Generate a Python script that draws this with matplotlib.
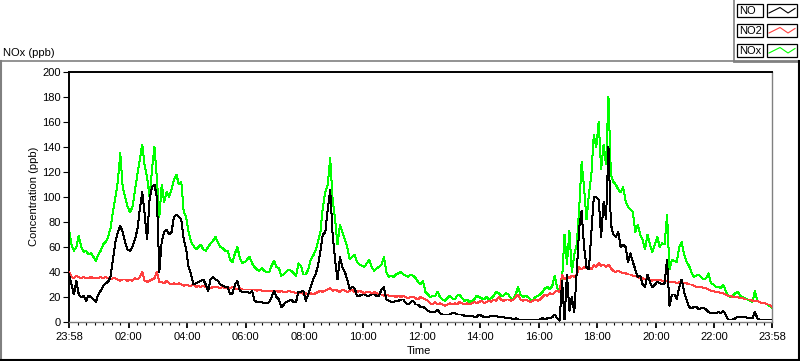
import numpy as np
import matplotlib
matplotlib.use("Agg")
import matplotlib.pyplot as plt
from matplotlib.lines import Line2D
from matplotlib.patches import Rectangle

plt.rcParams["font.family"] = ["Liberation Sans", "DejaVu Sans"]
plt.rcParams["font.size"] = 8

# minutes since 23:58, one reading every 5 minutes
minutes = np.arange(0, 1441, 5)

no = [
    38, 30, 22, 33, 22, 20, 21, 17, 21, 20, 18, 16,
    22, 25, 29, 31, 32, 36, 50, 64, 72, 77, 72, 64,
    58, 57, 60, 66, 74, 90, 104, 86, 66, 98, 108, 110,
    100, 40, 65, 72, 74, 70, 72, 84, 86, 84, 82, 66,
    58, 44, 38, 30, 31, 32, 33, 34, 30, 25, 34, 36,
    34, 33, 30, 29, 28, 28, 22, 23, 30, 33, 25, 24,
    24, 24, 23, 25, 17, 16, 16, 16, 15, 15, 16, 20,
    25, 20, 18, 12, 14, 16, 17, 18, 16, 16, 24, 24,
    25, 17, 22, 28, 34, 38, 45, 57, 70, 72, 90, 106,
    70, 50, 34, 52, 44, 40, 34, 26, 28, 27, 21, 21,
    22, 22, 21, 21, 22, 22, 21, 21, 26, 28, 18, 17,
    16, 16, 17, 17, 18, 18, 15, 14, 16, 17, 14, 14,
    12, 12, 11, 9, 8, 8, 8, 10, 7, 6, 6, 6,
    6, 7, 7, 6, 6, 6, 5, 5, 5, 5, 4, 4,
    6, 5, 4, 4, 4, 5, 5, 5, 4, 4, 4, 3,
    3, 3, 2, 3, 2, 2, 2, 2, 2, 2, 2, 2,
    2, 2, 3, 2, 3, 3, 4, 6, 3, 1, 33, 2,
    38, 9, 20, 8, 40, 75, 89, 60, 44, 42, 72, 100,
    100, 98, 68, 96, 82, 140, 78, 70, 68, 72, 60, 62,
    60, 48, 55, 48, 42, 36, 37, 30, 28, 38, 32, 28,
    30, 32, 31, 30, 31, 50, 13, 22, 22, 18, 28, 34,
    24, 18, 12, 11, 12, 12, 10, 11, 11, 10, 8, 7,
    7, 7, 8, 7, 9, 6, 2, 2, 2, 3, 4, 4,
    4, 4, 3, 3, 3, 8, 3, 2, 2, 2, 2, 2,
    2,
]

no2 = [
    40, 36, 35, 37, 36, 35, 36, 35, 35, 36, 35, 35,
    35, 36, 35, 36, 35, 34, 35, 35, 34, 33, 34, 34,
    33, 34, 33, 35, 34, 36, 40, 33, 32, 33, 34, 35,
    40, 32, 32, 31, 33, 31, 30, 31, 30, 31, 30, 29,
    30, 29, 29, 30, 28, 29, 28, 29, 28, 28, 27, 28,
    28, 28, 27, 28, 27, 27, 27, 28, 27, 26, 27, 26,
    26, 26, 26, 26, 26, 25, 26, 25, 25, 25, 25, 25,
    25, 25, 24, 25, 24, 24, 25, 24, 24, 23, 23, 24,
    22, 23, 22, 23, 22, 23, 24, 25, 24, 25, 26, 27,
    25, 26, 25, 24, 26, 25, 24, 25, 26, 24, 24, 25,
    24, 23, 24, 24, 23, 24, 23, 22, 22, 21, 22, 21,
    21, 21, 20, 21, 20, 21, 20, 19, 20, 20, 19, 18,
    20, 19, 18, 17, 15, 14, 16, 14, 15, 14, 13, 14,
    15, 14, 15, 14, 16, 15, 14, 15, 14, 15, 16, 15,
    16, 17, 15, 16, 17, 16, 18, 17, 20, 18, 17, 18,
    18, 17, 18, 20, 22, 18, 17, 18, 17, 16, 17, 18,
    17, 18, 20, 22, 21, 23, 22, 24, 25, 24, 38, 34,
    36, 35, 37, 36, 38, 44, 42, 44, 43, 44, 42, 46,
    44, 47, 45, 46, 44, 46, 43, 41, 40, 41, 40, 39,
    39, 38, 38, 37, 37, 36, 35, 35, 34, 34, 34, 33,
    34, 33, 34, 33, 33, 33, 32, 32, 32, 31, 32, 32,
    31, 31, 30, 30, 29, 28, 28, 28, 27, 27, 26, 25,
    25, 24, 24, 23, 23, 22, 21, 21, 20, 20, 20, 19,
    19, 18, 18, 18, 17, 17, 17, 16, 15, 15, 14, 14,
    12,
]

nox = [
    74, 62, 57, 60, 69, 60, 56, 57, 54, 55, 52, 49,
    54, 57, 62, 64, 68, 75, 88, 100, 112, 135, 108, 100,
    92, 88, 92, 105, 118, 130, 142, 125, 116, 100, 122, 140,
    115, 84, 110, 96, 104, 100, 106, 114, 118, 110, 112, 88,
    84, 72, 64, 61, 58, 60, 62, 58, 57, 60, 63, 65,
    68, 64, 60, 59, 57, 57, 50, 48, 55, 60, 51, 47,
    48, 50, 52, 47, 44, 42, 41, 43, 41, 40, 40, 45,
    49, 44, 43, 37, 38, 40, 42, 41, 39, 37, 47, 45,
    38, 38, 42, 50, 53, 57, 64, 72, 92, 104, 110, 131,
    98, 82, 62, 78, 72, 66, 60, 50, 52, 54, 48, 46,
    45, 44, 47, 50, 44, 41, 43, 44, 46, 52, 40, 36,
    37, 36, 38, 39, 40, 38, 37, 36, 38, 37, 35, 32,
    30, 33, 24, 22, 20, 21, 21, 24, 20, 18, 17, 19,
    21, 19, 18, 21, 22, 19, 17, 18, 16, 17, 18, 21,
    20, 19, 18, 20, 18, 19, 21, 24, 23, 21, 21, 23,
    22, 19, 18, 22, 28, 22, 20, 21, 20, 18, 17, 20,
    21, 22, 24, 27, 28, 26, 29, 37, 27, 26, 34, 70,
    46, 73, 40, 54, 62, 90, 128, 108, 82, 102, 118, 150,
    140, 160, 122, 142, 126, 180, 118, 112, 110, 106, 104, 108,
    97, 92, 90, 88, 72, 78, 70, 66, 58, 70, 62, 56,
    62, 68, 60, 63, 62, 86, 42, 50, 49, 48, 60, 64,
    54, 48, 45, 40, 36, 37, 38, 36, 34, 35, 39, 31,
    30, 28, 28, 27, 30, 25, 21, 20, 21, 23, 24, 21,
    20, 19, 18, 17, 16, 25, 17, 16, 15, 15, 14, 13,
    11,
]

major_pos = [0, 122, 242, 362, 482, 602, 722, 842, 962, 1082, 1202, 1322, 1440]
major_labels = ["23:58", "02:00", "04:00", "06:00", "08:00", "10:00", "12:00",
                "14:00", "16:00", "18:00", "20:00", "22:00", "23:58"]

W, H = 800, 361


def fx(px):
    return px / W


def fy(py):
    return 1 - py / H


fig = plt.figure(figsize=(W / 100, H / 100), dpi=100)
fig.patch.set_facecolor("white")

ax = fig.add_axes([fx(69), fy(322), fx(772) - fx(69), fy(72) - fy(322)])
ax.plot(minutes, nox, color="#00ff00", lw=0.72, zorder=2, antialiased=False)
ax.plot(minutes, no2, color="#ff4040", lw=0.72, zorder=3, antialiased=False)
ax.plot(minutes, no, color="black", lw=0.72, zorder=4, antialiased=False)

ax.set_xlim(0, 1440)
ax.set_ylim(0, 200)
ax.set_yticks(range(0, 201, 20))
ax.set_xticks(major_pos, major_labels)
minor = []
for a, b in zip(major_pos[:-1], major_pos[1:]):
    minor += list(np.linspace(a, b, 8)[1:-1])
ax.set_xticks(minor, minor=True)

ax.tick_params(axis="y", length=4, width=0.8, pad=2, labelsize=8)
ax.tick_params(axis="x", which="major", length=4, width=1.3, pad=3, labelsize=8)
ax.tick_params(axis="x", which="minor", length=2.5, width=0.8)

for side in ["left", "top"]:
    ax.spines[side].set_color("black")
    ax.spines[side].set_linewidth(1.4)
for side in ["right", "bottom"]:
    ax.spines[side].set_color("#808080")
    ax.spines[side].set_linewidth(1.0)

ax.set_ylabel("Concentration (ppb)", fontsize=8)
ax.yaxis.set_label_coords(fx(39), fy(196), transform=fig.transFigure)
ax.set_xlabel("Time", fontsize=8)
ax.xaxis.set_label_coords(fx(419), fy(346), transform=fig.transFigure)

fig.text(fx(3), fy(53), "NOx (ppb)", ha="left", va="center", fontsize=8)

# outer panel frame
frame = [
    ([0, 734], [61, 61], "#808080", 1.2),
    ([734, 800], [61, 61], "#808080", 2.0),
    ([734, 734], [0, 61], "#808080", 1.2),
    ([0.7, 0.7], [61, 361], "#808080", 1.5),
    ([0, 800], [359.8, 359.8], "black", 1.5),
    ([799.3, 799.3], [61, 361], "black", 1.5),
]
for xs, ys, c, lw in frame:
    fig.add_artist(Line2D([fx(v) for v in xs], [fy(v) for v in ys],
                          color=c, lw=lw, transform=fig.transFigure))

# legend boxes
legend_names = ["NO", "NO2", "NOx"]
legend_colors = ["black", "#ff4040", "#00ff00"]
for i, (name, col) in enumerate(zip(legend_names, legend_colors)):
    top = 4 + i * 20
    for x0, x1 in [(737, 763), (767, 797)]:
        fig.add_artist(Rectangle((fx(x0), fy(top + 13)), fx(x1) - fx(x0), fy(top) - fy(top + 13),
                                 facecolor="white", edgecolor="black", lw=0.9,
                                 transform=fig.transFigure))
    fig.text(fx(739), fy(top + 6.8), name, ha="left", va="center", fontsize=8)
    zx = [769, 780, 788, 795]
    zy = [top + 9, top + 3.5, top + 9, top + 4.5]
    fig.add_artist(Line2D([fx(v) for v in zx], [fy(v) for v in zy],
                          color=col, lw=0.8, transform=fig.transFigure))

fig.savefig("out.png", dpi=100, facecolor="white")
